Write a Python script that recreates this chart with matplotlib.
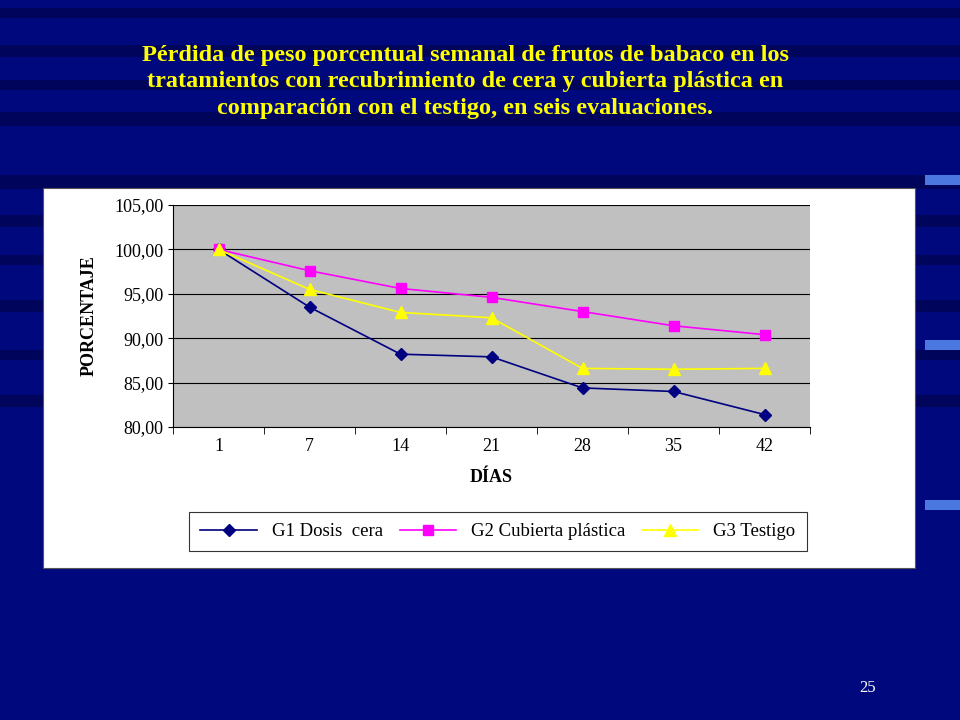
import matplotlib.pyplot as plt
import numpy as np
from matplotlib.patches import Rectangle

plt.rcParams['font.family'] = 'Liberation Serif'

days = ['1', '7', '14', '21', '28', '35', '42']
g1_cera = [100.0, 93.5, 88.2, 87.9, 84.4, 84.0, 81.4]
g2_plastica = [100.0, 97.6, 95.6, 94.6, 93.0, 91.4, 90.4]
g3_testigo = [100.0, 95.5, 92.9, 92.3, 86.6, 86.5, 86.6]
series_names = ['G1 Dosis  cera', 'G2 Cubierta plástica', 'G3 Testigo']

W, H = 960, 720
fig = plt.figure(figsize=(9.6, 7.2), dpi=100, facecolor='#00087e')

def px(x, y, w, h):
    return [x / W, 1 - (y + h) / H, w / W, h / H]

# decorative dark stripes on the slide background
bg = fig.add_axes([0, 0, 1, 1], zorder=0)
bg.set_xlim(0, W); bg.set_ylim(H, 0); bg.axis('off')
for y0, hh in [(8, 10), (45, 12), (80, 10), (112, 14), (175, 14), (215, 12),
               (255, 10), (300, 12), (350, 10), (395, 12)]:
    bg.add_patch(Rectangle((0, y0), 960, hh, color='#00045a', lw=0))
for y0 in [175, 340, 500]:
    bg.add_patch(Rectangle((925, y0), 35, 10, color='#4a78e0', lw=0))
bg.add_patch(Rectangle((43, 188), 872, 380, facecolor='white', edgecolor='#555555', lw=0.8))
bg.text(465, 82, 'Pérdida de peso porcentual semanal de frutos de babaco en los\n'
        'tratamientos con recubrimiento de cera y cubierta plástica en\n'
        'comparación con el testigo, en seis evaluaciones.',
        color='#ffff00', fontsize=17.5, fontweight='bold', ha='center', va='center',
        linespacing=1.35)
bg.text(868, 688, '25', color='white', fontsize=12, ha='center', va='center')

ax = fig.add_axes(px(173, 205, 637, 222), zorder=2)
ax.set_facecolor('#c0c0c0')
x = np.arange(len(days))
ax.plot(x, g1_cera, color='#000080', marker='D', ms=6, lw=1.2, label=series_names[0])
ax.plot(x, g2_plastica, color='#ff00ff', marker='s', ms=7, lw=1.2, label=series_names[1])
ax.plot(x, g3_testigo, color='#ffff00', marker='^', ms=8, lw=1.2, label=series_names[2])
ax.set_xlim(-0.5, 6.5)
ax.set_ylim(80, 105)
ax.set_yticks(np.arange(80, 106, 5))
ax.set_yticklabels([f'{v:.2f}'.replace('.', ',') for v in np.arange(80, 106, 5)], fontsize=13)
ax.set_xticks(x)
ax.set_xticklabels(days, fontsize=13)
ax.set_xticks(np.arange(-0.5, 7, 1), minor=True)
ax.tick_params(axis='x', which='major', length=0, pad=8)
ax.tick_params(axis='x', which='minor', length=5, direction='out')
ax.grid(axis='y', color='black', lw=0.8)
for s in ['top', 'right']:
    ax.spines[s].set_visible(False)
ax.set_xlabel('DÍAS', fontsize=13, fontweight='bold', labelpad=10)
ax.set_ylabel('PORCENTAJE', fontsize=13, fontweight='bold', labelpad=12)

lax = fig.add_axes(px(180, 503, 636, 57), zorder=2)
lax.axis('off')
h, l = ax.get_legend_handles_labels()
leg = lax.legend(h, l, loc='center', ncol=3, fontsize=13.5, frameon=True, fancybox=False,
                 edgecolor='black', handlelength=3.0, columnspacing=0.9,
                 borderpad=0.6, bbox_to_anchor=(0.5, 0.5))
leg.get_frame().set_linewidth(0.8)

fig.savefig('out.png', dpi=100, facecolor=fig.get_facecolor())
